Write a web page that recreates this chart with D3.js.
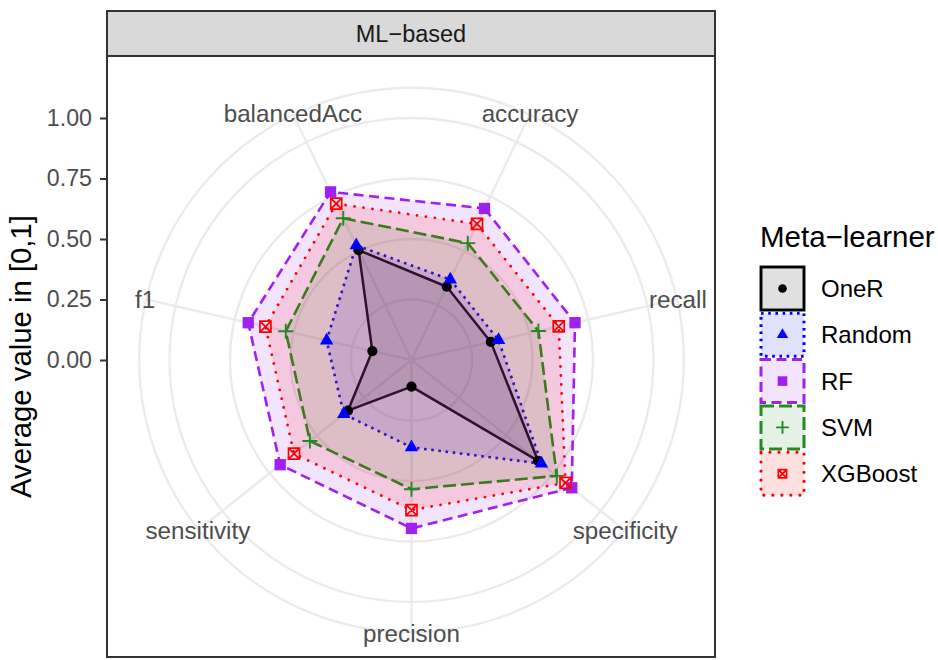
<!DOCTYPE html>
<html><head><meta charset="utf-8">
<script src="https://cdn.jsdelivr.net/npm/d3@7"></script>
<style>
body{margin:0;background:#fff;}
text{font-family:"Liberation Sans",Arial,Helvetica,sans-serif;}
</style>
</head><body>
<svg id="chart" width="938" height="660"></svg>
<script>
// ---------------- data ----------------
const categories = ["accuracy","recall","specificity","precision","sensitivity","f1","balancedAcc"];
const learners = ["OneR","Random","RF","SVM","XGBoost"];
const valuesOneR    = [0.336,0.336,0.669,0.110,0.336,0.166,0.504];
const valuesRandom  = [0.369,0.369,0.687,0.361,0.358,0.360,0.526];
const valuesRF      = [0.695,0.693,0.847,0.696,0.694,0.692,0.771];
const valuesSVM     = [0.536,0.538,0.768,0.534,0.537,0.533,0.650];
const valuesXGBoost = [0.624,0.624,0.814,0.620,0.621,0.619,0.717];
const seriesValues = [valuesOneR, valuesRandom, valuesRF, valuesSVM, valuesXGBoost];
const yTicks = [0, 0.25, 0.5, 0.75, 1.0];
const yTickLabels = ["0.00","0.25","0.50","0.75","1.00"];
const facetLabel = "ML\u2212based";
const legendTitle = "Meta\u2212learner";
const yTitle = "Average value in [0,1]";

// ---------------- styles ----------------
const colors = ["#000000","#0000FF","#A020F0","#228B22","#FF0000"];
const dashes = [null, "2.6,4.6", "10,5.5", "13,5", "0.01,9"];
const caps = ["butt","butt","butt","butt","round"];
const strokeW = [2.5, 2.6, 2.6, 2.6, 2.8];
const fillAlpha = 0.12;

const W = 938, H = 660;
const panel = {x0:107, x1:715, y0:56, y1:657};
const strip = {y0:11, y1:56};
const cx = 411.5, cy = 360;

const svg = d3.select("#chart");
svg.append("rect").attr("width",W).attr("height",H).attr("fill","#fff");

const r = d3.scaleLinear().domain([0,1]).range([0,242]);
const angle = d3.scaleLinear().domain([0, categories.length])
  .range([Math.PI/categories.length, Math.PI/categories.length + 2*Math.PI]);
const outerR = r(1.125);

// clip
svg.append("clipPath").attr("id","pclip").append("rect")
  .attr("x",panel.x0).attr("y",panel.y0).attr("width",panel.x1-panel.x0).attr("height",panel.y1-panel.y0);

const pg = svg.append("g").attr("clip-path","url(#pclip)");
const g = pg.append("g").attr("transform",`translate(${cx},${cy})`);

// grid circles
const gridR = yTicks.filter(v=>v>0).map(v=>r(v)).concat([outerR]);
g.selectAll("circle.grid").data(gridR).enter().append("circle")
  .attr("r",d=>d).attr("fill","none").attr("stroke","#EBEBEB").attr("stroke-width",2.4);
// spokes
g.selectAll("line.spoke").data(categories).enter().append("line")
  .attr("x1",0).attr("y1",0)
  .attr("x2",(d,i)=>outerR*Math.sin(angle(i)))
  .attr("y2",(d,i)=>-outerR*Math.cos(angle(i)))
  .attr("stroke","#EBEBEB").attr("stroke-width",2.4);

// category labels
g.selectAll("text.cat").data(categories).enter().append("text")
  .attr("x",(d,i)=>(outerR+1)*Math.sin(angle(i)))
  .attr("y",(d,i)=>-(outerR+1)*Math.cos(angle(i)))
  .attr("dy","0.35em").attr("text-anchor","middle")
  .attr("font-size",24.2).attr("fill","#4D4D4D").text(d=>d);

// polygons
const radial = d3.lineRadial().angle((d,i)=>angle(i)).radius(d=>r(d)).curve(d3.curveLinearClosed);
learners.forEach((name,k)=>{
  g.append("path").attr("d", radial(seriesValues[k]))
    .attr("fill",colors[k]).attr("fill-opacity",fillAlpha)
    .attr("stroke",colors[k]).attr("stroke-width",strokeW[k])
    .attr("stroke-dasharray",dashes[k]).attr("stroke-linecap",caps[k])
    .attr("stroke-linejoin","round");
});

// symbols
const symPlus = {draw(ctx,size){const s=Math.sqrt(size)/2;ctx.moveTo(-s,0);ctx.lineTo(s,0);ctx.moveTo(0,-s);ctx.lineTo(0,s);}};
const symBoxX = {draw(ctx,size){const s=Math.sqrt(size)/2;ctx.moveTo(-s,-s);ctx.lineTo(s,-s);ctx.lineTo(s,s);ctx.lineTo(-s,s);ctx.closePath();ctx.moveTo(-s,-s);ctx.lineTo(s,s);ctx.moveTo(s,-s);ctx.lineTo(-s,s);}};
function marker(sel,k,scale){
  const sc = scale||1;
  if(k===0) sel.attr("d",d3.symbol(d3.symbolCircle, Math.PI*Math.pow(5.1*sc,2))()).attr("fill",colors[k]);
  else if(k===1) sel.attr("d",d3.symbol(d3.symbolTriangle, Math.pow(13.5*sc,2)*Math.sqrt(3)/4)()).attr("fill",colors[k]);
  else if(k===2) sel.attr("d",d3.symbol(d3.symbolSquare, Math.pow(11.3*sc,2))()).attr("fill",colors[k]);
  else if(k===3) sel.attr("d",d3.symbol(symPlus, Math.pow(15*sc,2))()).attr("fill","none").attr("stroke",colors[k]).attr("stroke-width",1.9);
  else sel.attr("d",d3.symbol(symBoxX, Math.pow(11*sc,2))()).attr("fill","none").attr("stroke",colors[k]).attr("stroke-width",1.7);
}
learners.forEach((name,k)=>{
  g.selectAll(null).data(seriesValues[k]).enter().append("path")
    .attr("transform",(d,i)=>`translate(${r(d)*Math.sin(angle(i))},${-r(d)*Math.cos(angle(i))})`)
    .call(sel=>marker(sel,k,1));
});

// panel border
svg.append("rect").attr("x",panel.x0).attr("y",panel.y0)
  .attr("width",panel.x1-panel.x0).attr("height",panel.y1-panel.y0)
  .attr("fill","none").attr("stroke","#333333").attr("stroke-width",2);

// strip
svg.append("rect").attr("x",panel.x0).attr("y",strip.y0)
  .attr("width",panel.x1-panel.x0).attr("height",strip.y1-strip.y0)
  .attr("fill","#D9D9D9").attr("stroke","#333333").attr("stroke-width",2);
svg.append("text").attr("x",(panel.x0+panel.x1)/2).attr("y",(strip.y0+strip.y1)/2)
  .attr("dy","0.35em").attr("text-anchor","middle").attr("font-size",23.5)
  .attr("fill","#1A1A1A").text(facetLabel);

// y axis
const yAxisScale = d3.scaleLinear().domain([0,1]).range([cy, cy - r(1)]);
const yAxis = d3.axisLeft(yAxisScale).tickValues(yTicks)
  .tickFormat((d,i)=>yTickLabels[i]).tickSize(7).tickPadding(8);
const ya = svg.append("g").attr("transform",`translate(${panel.x0},0)`).call(yAxis);
ya.select(".domain").remove();
ya.selectAll(".tick line").attr("stroke","#333333").attr("stroke-width",2);
ya.selectAll(".tick text").attr("font-size",23.2).attr("fill","#4D4D4D")
  .attr("font-family","'Liberation Sans',Arial,sans-serif");

// y title
svg.append("text").attr("transform",`translate(31,${(panel.y0+panel.y1)/2}) rotate(-90)`)
  .attr("text-anchor","middle").attr("font-size",29.3).attr("fill","#000").text(yTitle);

// legend
const lg = svg.append("g");
lg.append("text").attr("x",760).attr("y",247).attr("font-size",29.5).attr("fill","#000").text(legendTitle);
const keyX = 761, keyY0 = 267, keyStep = 46.3, keyS = 43;
learners.forEach((name,k)=>{
  const y = keyY0 + k*keyStep;
  lg.append("rect").attr("x",keyX).attr("y",y).attr("width",keyS).attr("height",keyS)
    .attr("fill",colors[k]).attr("fill-opacity",fillAlpha)
    .attr("stroke",colors[k]).attr("stroke-width",strokeW[k]+0.4)
    .attr("stroke-dasharray",dashes[k]).attr("stroke-linecap",caps[k]);
  lg.append("path").attr("transform",`translate(${keyX+keyS/2},${y+keyS/2})`)
    .call(sel=>marker(sel,k,k===4?0.75:0.85));
  lg.append("text").attr("x",821).attr("y",y+keyS/2).attr("dy","0.35em")
    .attr("font-size",24).attr("fill","#000").text(name);
});
</script>
</body></html>
